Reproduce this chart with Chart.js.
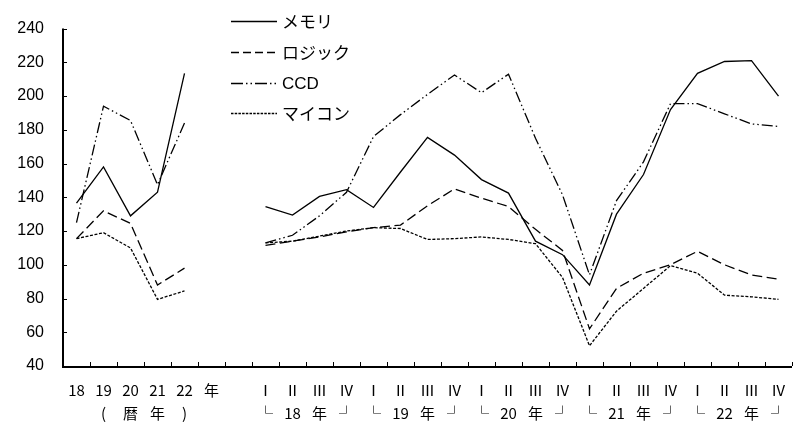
<!DOCTYPE html>
<html>
<head>
<meta charset="utf-8">
<script src="https://cdn.jsdelivr.net/npm/chart.js@4/dist/chart.umd.min.js"></script>
<style>
html,body{margin:0;padding:0;background:#fff;}
#wrap{width:804px;height:423px;position:relative;}
</style>
</head>
<body>
<div id="wrap"><canvas id="c"></canvas></div>
<script>
// ---- data ----
const annualLabels = ["18", "19", "20", "21", "22"];
const annualSubLabels = ["", "(", "暦", "年", ")"];
const annualUnit = "年";
const quarterLabels = ["Ⅰ", "Ⅱ", "Ⅲ", "Ⅳ"];
const quarterYears = ["18", "19", "20", "21", "22"];
const seriesNames = ["メモリ", "ロジック", "CCD", "マイコン"];

const memoryAnnual = [136.5, 158, 129, 143, 213.5];
const logicAnnual  = [115.5, 132, 124.5, 88, 98];
const ccdAnnual    = [125, 194, 185.5, 147.5, 184];
const miconAnnual  = [115.5, 119, 110, 79.5, 84.5];

const memoryQuarterly = [134.5, 129.5, 140.5, 144.5, 134, 155, 175.5, 165, 150.5, 142.5, 114, 106, 88, 130, 153.5, 192, 213.5, 220.5, 221, 200];
const logicQuarterly  = [111.5, 114, 116.5, 119.5, 122, 123.5, 135, 145, 139.5, 134.5, 121, 108.5, 62, 86, 95, 100, 108, 100, 94, 91.5];
const ccdQuarterly    = [113, 117.5, 129, 143, 176, 189, 201, 212.5, 202, 213, 175, 141.5, 94, 138, 161, 195.5, 195.5, 189.5, 183.5, 182];
const miconQuarterly  = [113, 114, 117, 120, 122, 121.5, 115, 115.5, 116.5, 115, 112.5, 92.5, 52, 72.5, 86, 99.5, 95, 82, 81, 79.5];

const yMin = 40, yMax = 240, yStep = 20;

// ---- build category labels ----
const labels = [];
annualLabels.forEach((l, i) => labels.push([l, annualSubLabels[i]]));
labels.push([annualUnit, ""]);
labels.push(["", ""]);
quarterYears.forEach(y => {
  quarterLabels.forEach((q, qi) => {
    const sub = qi === 0 ? "└" : qi === 1 ? y : qi === 2 ? "年" : "┘";
    labels.push([q, sub]);
  });
});
const gap = [null, null];
const build = (a, q) => a.concat(gap, q);

const lineW = 1.3;
const datasets = [
  { label: seriesNames[0], data: build(memoryAnnual, memoryQuarterly), borderDash: [], legendDash: [] },
  { label: seriesNames[1], data: build(logicAnnual, logicQuarterly), borderDash: [10, 4.5], legendDash: [8, 4] },
  { label: seriesNames[2], data: build(ccdAnnual, ccdQuarterly), borderDash: [11, 3, 1.5, 3, 1.5, 3], legendDash: [12, 3, 1.5, 3, 1.5, 3] },
  { label: seriesNames[3], data: build(miconAnnual, miconQuarterly), borderDash: [3, 1.6], legendDash: [2.5, 1.2] }
].map(d => Object.assign(d, {
  borderColor: "#000", backgroundColor: "#000", borderWidth: lineW,
  pointRadius: 0, pointHoverRadius: 0, tension: 0, spanGaps: false, fill: false
}));

function drawAxes(chart) {
  const ctx = chart.ctx;
  const xs = chart.scales.x, ys = chart.scales.y;
  const a = chart.chartArea;
  ctx.save();
  ctx.setLineDash([]);
  ctx.strokeStyle = "#000";
  ctx.lineWidth = 1;
  ctx.beginPath();
  const n = chart.data.labels.length;
  for (let i = 0; i <= n; i++) {
    const px = Math.round(xs.getPixelForValue(i - 0.5)) + 0.5;
    ctx.moveTo(px, a.bottom);
    ctx.lineTo(px, a.bottom - 4);
  }
  for (let v = yMin; v <= yMax; v += yStep) {
    const py = Math.round(ys.getPixelForValue(v)) + 0.5;
    ctx.moveTo(a.left, py);
    ctx.lineTo(a.left + 4, py);
  }
  ctx.stroke();
  ctx.lineWidth = 2;
  ctx.beginPath();
  ctx.moveTo(a.left, a.top);
  ctx.lineTo(a.left, a.bottom + 1);
  ctx.lineTo(a.right, a.bottom + 1);
  ctx.stroke();
  ctx.restore();
}

// ---- legend drawn inside plot + inward axis ticks ----
const legendPlugin = {
  id: "innerLegend",
  afterDatasetsDraw(chart) {
    const ctx = chart.ctx;
    try { drawAxes(chart); } catch (e) {
      ctx.save(); ctx.fillStyle = "red"; ctx.font = "12px sans-serif"; ctx.fillText(String(e), 300, 300); ctx.restore();
    }
    const x0 = 231, x1 = 277, tx = 282;
    const ys = [21, 52, 83, 113];
    chart.data.datasets.forEach((ds, i) => {
      ctx.save();
      ctx.strokeStyle = "#000";
      ctx.lineWidth = lineW;
      ctx.setLineDash(ds.legendDash);
      ctx.beginPath();
      ctx.moveTo(x0, ys[i] + 0.5);
      ctx.lineTo(x1, ys[i] + 0.5);
      ctx.stroke();
      ctx.setLineDash([]);
      ctx.fillStyle = "#000";
      ctx.textBaseline = "middle";
      ctx.textAlign = "left";
      ctx.font = /^[A-Za-z]+$/.test(ds.label) ? "17px 'Liberation Sans', Arial, sans-serif" : "17px 'Noto Sans CJK JP', sans-serif";
      ctx.fillText(ds.label, tx, ys[i] + 1);
      ctx.restore();
    });
  }
};

new Chart(document.getElementById("c"), {
  type: "line",
  data: { labels, datasets },
  options: {
    responsive: true,
    maintainAspectRatio: false,
    animation: false,
    events: [],
    layout: { padding: { top: 19, right: 12, left: 0, bottom: 0 } },
    plugins: { legend: { display: false }, tooltip: { enabled: false } },
    scales: {
      x: {
        type: "category",
        offset: true,
        grid: { offset: true, display: false, drawTicks: false },
        border: { display: false },
        ticks: {
          autoSkip: false, maxRotation: 0, minRotation: 0, padding: 12.5, color: "#000",
          font: { family: "'Noto Sans CJK JP', sans-serif", size: 15, lineHeight: 1.53 }
        },
        afterFit(s) { s.height = 57; }
      },
      y: {
        min: yMin, max: yMax,
        grid: { display: false, drawTicks: false },
        border: { display: false },
        ticks: {
          stepSize: yStep, padding: 19, color: "#000",
          font: { family: "'Liberation Sans', Arial, sans-serif", size: 16 }
        },
        afterFit(s) { s.width = 63; }
      }
    }
  },
  plugins: [legendPlugin]
});
</script>
</body>
</html>
